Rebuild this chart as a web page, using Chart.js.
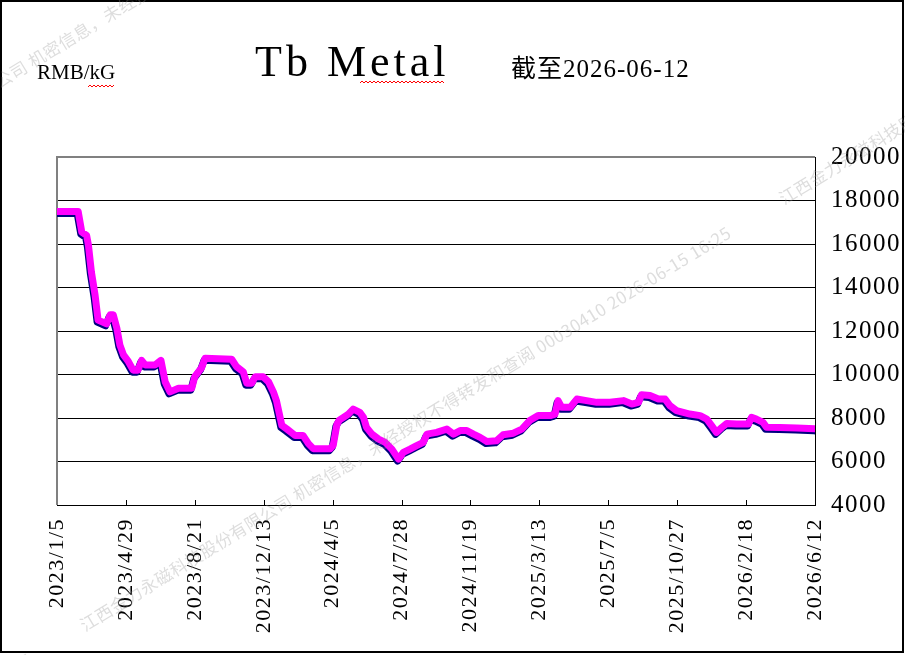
<!DOCTYPE html>
<html>
<head>
<meta charset="utf-8">
<script src="https://cdn.jsdelivr.net/npm/chart.js@4/dist/chart.umd.min.js"></script>
<style>
  html, body { margin: 0; padding: 0; background: #fff; }
  canvas { display: block; }
</style>
</head>
<body>
<canvas id="chart" width="905" height="655"></canvas>
<script>
// days counted from 2023/1/5, price in RMB/kG
const dayOffsets = [0, 35, 41, 49, 52, 57, 63, 68, 82, 88, 93, 99, 104, 110, 118, 126, 134, 140, 146, 162,
  172, 179, 187, 201, 223, 228, 239, 245, 289, 297, 308, 314, 322, 328, 341, 350, 358, 363, 372, 380,
  394, 407, 416, 424, 452, 457, 463, 467, 474, 482, 490, 501, 507, 512, 521, 532, 543, 554, 565, 573,
  584, 595, 606, 612, 628, 645, 656, 667, 678, 689, 700, 711, 727, 738, 755, 769, 782, 796, 816, 824,
  829, 835, 849, 860, 876, 893, 915, 937, 951, 962, 967, 981, 995, 1006, 1014, 1025, 1036, 1047, 1064, 1075,
  1083, 1091, 1100, 1108, 1124, 1144, 1149, 1157, 1168, 1174, 1196, 1224, 1254];
const prices = [17500, 17500, 16550, 16400, 15950, 14700, 13650, 12500, 12330, 12750, 12750, 12130, 11360, 10900, 10600, 10200, 10200, 10650, 10440, 10440,
  10650, 9660, 9200, 9370, 9370, 9900, 10300, 10750, 10700, 10360, 10130, 9600, 9600, 9900, 9900, 9660, 9200, 8800, 7660, 7500,
  7200, 7200, 6820, 6590, 6590, 6750, 7700, 7900, 8030, 8180, 8410, 8260, 8030, 7570, 7260, 7030, 6880, 6570, 6110, 6420,
  6570, 6730, 6880, 7260, 7340, 7490, 7260, 7420, 7420, 7260, 7110, 6920, 6950, 7230, 7300, 7490, 7880, 8110, 8110, 8180,
  8800, 8490, 8490, 8870, 8800, 8720, 8720, 8800, 8640, 8720, 9070, 9030, 8870, 8870, 8570, 8340, 8260, 8180, 8110, 7950,
  7650, 7340, 7570, 7750, 7720, 7720, 8030, 7950, 7800, 7570, 7560, 7540, 7500];

const tickLabels = ["2023/1/5", "2023/4/29", "2023/8/21", "2023/12/13", "2024/4/5", "2024/7/28",
  "2024/11/19", "2025/3/13", "2025/7/5", "2025/10/27", "2026/2/18", "2026/6/12"];
const tickStep = 114;
const yTicks = [4000, 6000, 8000, 10000, 12000, 14000, 16000, 18000, 20000];

const titleText = "Tb Metal";
const unitText = "RMB/kG";
const dateText = "截至2026-06-12";
const watermark = "江西金力永磁科技股份有限公司 机密信息，未经授权不得转发和查阅 00030410 2026-06-15 16:25";

const SERIF = "'Liberation Serif', 'Noto Sans CJK SC', serif";

function squiggle(ctx, x0, x1, y) {
  ctx.beginPath();
  for (let x = x0, i = 0; x <= x1; x += 2, i++) {
    const yy = y + (i % 2 ? -1 : 1);
    if (i === 0) ctx.moveTo(x, yy); else ctx.lineTo(x, yy);
  }
  ctx.stroke();
}

const decor = {
  id: "decor",
  beforeUpdate(chart) { chart.ctx.letterSpacing = "1.5px"; },
  beforeDraw(chart) {
    const ctx = chart.ctx;
    ctx.letterSpacing = "1.5px";
    ctx.save();
    ctx.fillStyle = "#fff";
    ctx.fillRect(0, 0, chart.width, chart.height);
    ctx.restore();
  },
  beforeDatasetsDraw(chart) {
    const ctx = chart.ctx;
    const a = chart.chartArea;
    const xs = chart.scales.x;
    ctx.save();
    // inner tick marks on the bottom axis
    ctx.strokeStyle = "#000";
    ctx.lineWidth = 1;
    xs.ticks.forEach(t => {
      const px = Math.round(xs.getPixelForValue(t.value)) + 0.5;
      ctx.beginPath();
      ctx.moveTo(px, a.bottom);
      ctx.lineTo(px, a.bottom - 5);
      ctx.stroke();
    });
    // grey left / top frame
    ctx.strokeStyle = "#808080";
    ctx.lineWidth = 2;
    ctx.beginPath();
    ctx.moveTo(a.left, a.bottom);
    ctx.lineTo(a.left, a.top);
    ctx.lineTo(a.right, a.top);
    ctx.stroke();
    ctx.restore();
  },
  beforeDatasetDraw(chart) {
    const ctx = chart.ctx;
    ctx.save();
    ctx.shadowColor = "#000080";
    ctx.shadowOffsetX = -1;
    ctx.shadowOffsetY = 2;
    ctx.shadowBlur = 0;
  },
  afterDatasetDraw(chart) {
    chart.ctx.restore();
  },
  afterDraw(chart) {
    const ctx = chart.ctx;
    ctx.save();
    ctx.fillStyle = "#000";
    ctx.textBaseline = "alphabetic";
    ctx.textAlign = "left";

    ctx.letterSpacing = "4px";
    ctx.font = "44px " + SERIF;
    ctx.fillText(titleText, 255, 76);

    ctx.letterSpacing = "0px";
    ctx.font = "21px " + SERIF;
    ctx.fillText(unitText, 37, 79);

    ctx.letterSpacing = "1px";
    ctx.font = "25px " + SERIF;
    ctx.fillText(dateText, 511, 77);

    ctx.strokeStyle = "#ff0000";
    ctx.lineWidth = 1;
    squiggle(ctx, 88, 115, 86);
    squiggle(ctx, 360, 444, 82);

    // outer frame
    ctx.strokeStyle = "#000";
    ctx.lineWidth = 2;
    ctx.strokeRect(1, 1, 902, 651);

    // watermark
    ctx.letterSpacing = "0.5px";
    ctx.font = "17px 'Noto Sans CJK SC', sans-serif";
    ctx.fillStyle = "rgba(150,150,150,0.32)";
    ctx.translate(85, 632);
    ctx.rotate(-31.4 * Math.PI / 180);
    const w = ctx.measureText(watermark).width + 60;
    [-508, 0].forEach(yy => {
      for (let x = -3 * w; x < 2 * w; x += w) ctx.fillText(watermark, x, yy);
    });
    ctx.restore();
  }
};

new Chart(document.getElementById("chart"), {
  type: "line",
  data: {
    datasets: [{
      data: dayOffsets.map((d, i) => ({ x: d, y: prices[i] })),
      borderColor: "#ff00ff",
      borderWidth: 7,
      borderJoinStyle: "round",
      borderCapStyle: "round",
      pointRadius: 0,
      tension: 0,
      fill: false,
    }],
  },
  options: {
    responsive: false,
    animation: false,
    events: [],
    layout: { padding: { left: 57, top: 157, right: 0, bottom: 0 } },
    plugins: { legend: { display: false }, tooltip: { enabled: false } },
    scales: {
      x: {
        type: "linear",
        min: 0,
        max: tickStep * (tickLabels.length - 1),
        afterBuildTicks: s => { s.ticks = tickLabels.map((_, i) => ({ value: i * tickStep })); },
        afterFit: s => { s.height = 150; },
        grid: { display: false, drawTicks: false },
        border: { display: true, color: "#000", width: 1 },
        ticks: {
          autoSkip: false,
          minRotation: 90,
          maxRotation: 90,
          padding: 13,
          color: "#000",
          font: { family: SERIF, size: 22 },
          callback: v => tickLabels[Math.round(v / tickStep)],
        },
      },
      y: {
        position: "right",
        min: 4000,
        max: 20000,
        afterBuildTicks: s => { s.ticks = yTicks.map(v => ({ value: v })); },
        afterFit: s => { s.width = 90; },
        grid: { color: "#000", lineWidth: 1, drawTicks: false },
        border: { display: true, color: "#000", width: 1 },
        ticks: {
          padding: 16,
          color: "#000",
          font: { family: SERIF, size: 25 },
          callback: v => String(v),
        },
      },
    },
  },
  plugins: [decor],
});
</script>
</body>
</html>
